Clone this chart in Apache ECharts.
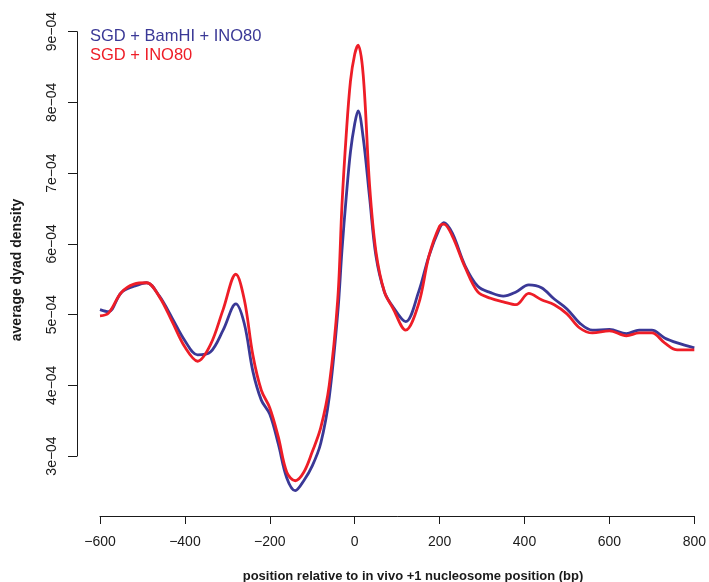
<!DOCTYPE html>
<html>
<head>
<meta charset="utf-8">
<script src="https://cdn.jsdelivr.net/npm/echarts@6/dist/echarts.min.js"></script>
<style>
  html, body { margin: 0; padding: 0; background: #ffffff; }
  #chart { width: 709px; height: 582px; }
</style>
</head>
<body>
<div id="chart"></div>
<script>
// positions in bp relative to in vivo +1 nucleosome
const positions = [-600, -580, -550, -520, -490, -460, -430, -400, -370, -340, -310, -280, -260, -240, -220,
  -200, -180, -160, -140, -120, -100, -80, -60, -40, -30, -20, -10, 0, 8, 20, 35, 50, 70, 90, 120, 150,
  175, 200, 210, 230, 260, 290, 320, 350, 380, 410, 440, 470, 500, 530, 560, 600, 640, 670, 700, 730,
  760, 800]

// SGD + BamHI + INO80 (units of 1e-4)
const bamhiIno80 = [5.07, 5.04, 5.31, 5.40, 5.45, 5.26, 4.95, 4.63, 4.43, 4.47, 4.78, 5.15, 4.87, 4.20, 3.79,
  3.59, 3.17, 2.69, 2.51, 2.65, 2.86, 3.18, 3.83, 5.02, 5.91, 6.66, 7.30, 7.70, 7.88, 7.50, 6.66, 5.83, 5.32,
  5.11, 4.90, 5.31, 5.83, 6.22, 6.30, 6.15, 5.69, 5.40, 5.31, 5.26, 5.32, 5.42, 5.38, 5.22, 5.08, 4.88, 4.78,
  4.79, 4.73, 4.78, 4.78, 4.67, 4.60, 4.53]

// SGD + INO80 (units of 1e-4)
const ino80 = [4.98, 5.02, 5.31, 5.43, 5.45, 5.25, 4.90, 4.54, 4.34, 4.57, 5.07, 5.57, 5.21, 4.43, 3.93,
  3.68, 3.27, 2.77, 2.65, 2.77, 3.06, 3.40, 4.00, 5.21, 6.55, 7.54, 8.30, 8.68, 8.81, 8.39, 6.83, 5.89, 5.32,
  5.09, 4.78, 5.14, 5.83, 6.25, 6.28, 6.11, 5.67, 5.32, 5.23, 5.18, 5.14, 5.30, 5.21, 5.14, 5.01, 4.81, 4.74,
  4.77, 4.70, 4.74, 4.74, 4.60, 4.50, 4.50]

const xTicks = [-600, -400, -200, 0, 200, 400, 600, 800]
const yTicks = [3e-4, 4e-4, 5e-4, 6e-4, 7e-4, 8e-4, 9e-4]

const blue = '#3a3896'
const red = '#ee1d27'
const ink = '#1a1a1a'
const fontFamily = 'Liberation Sans, Arial, Helvetica, sans-serif'

const chart = echarts.init(document.getElementById('chart'), null, { renderer: 'canvas' })

function toSeries(values) {
  return positions.map((x, i) => [x, values[i] * 1e-4])
}

chart.setOption({
  animation: false,
  backgroundColor: '#ffffff',
  textStyle: { fontFamily },
  grid: {
    left: 100,
    right: 12,
    top: 31.7,
    bottom: 126,
  },
  xAxis: {
    type: 'value',
    min: xTicks[0],
    max: xTicks[xTicks.length - 1],
    interval: 200,
    offset: 60,
    splitLine: { show: false },
    axisLine: { onZero: false, lineStyle: { color: ink, width: 1 } },
    axisTick: { length: 8, lineStyle: { color: ink } },
    axisLabel: {
      color: ink,
      fontSize: 14,
      margin: 19,
      formatter: (v) => String(v).replace('-', '\u2212'),
    },
  },
  yAxis: {
    type: 'value',
    min: yTicks[0],
    max: yTicks[yTicks.length - 1],
    interval: 1e-4,
    offset: 23,
    splitLine: { show: false },
    axisLine: { show: true, onZero: false, lineStyle: { color: ink, width: 1 } },
    axisTick: { show: true, length: 9, lineStyle: { color: ink } },
    axisLabel: {
      color: ink,
      fontSize: 14,
      rotate: 90,
      margin: 18,
      formatter: (v) => Math.round(v * 1e4) + 'e\u221204',
    },
  },
  series: [
    {
      name: 'SGD + BamHI + INO80',
      type: 'line',
      data: toSeries(bamhiIno80),
      showSymbol: false,
      smooth: 0.35,
      clip: false,
      lineStyle: { color: blue, width: 2.8 },
    },
    {
      name: 'SGD + INO80',
      type: 'line',
      data: toSeries(ino80),
      showSymbol: false,
      smooth: 0.35,
      clip: false,
      lineStyle: { color: red, width: 2.8 },
    },
  ],
  graphic: [
    {
      type: 'text',
      x: 90,
      y: 36,
      style: { text: 'SGD + BamHI + INO80', fill: blue, font: '16.5px ' + fontFamily, verticalAlign: 'middle' },
    },
    {
      type: 'text',
      x: 90,
      y: 55,
      style: { text: 'SGD + INO80', fill: red, font: '16.5px ' + fontFamily, verticalAlign: 'middle' },
    },
    {
      type: 'text',
      x: 413,
      y: 576,
      style: {
        text: 'position relative to in vivo +1 nucleosome position (bp)',
        fill: ink,
        font: 'bold 13px ' + fontFamily,
        align: 'center',
        verticalAlign: 'middle',
      },
    },
    {
      type: 'text',
      x: 17,
      y: 270,
      rotation: Math.PI / 2,
      style: {
        text: 'average dyad density',
        fill: ink,
        font: 'bold 14px ' + fontFamily,
        align: 'center',
        verticalAlign: 'middle',
      },
    },
  ],
})
</script>
</body>
</html>
